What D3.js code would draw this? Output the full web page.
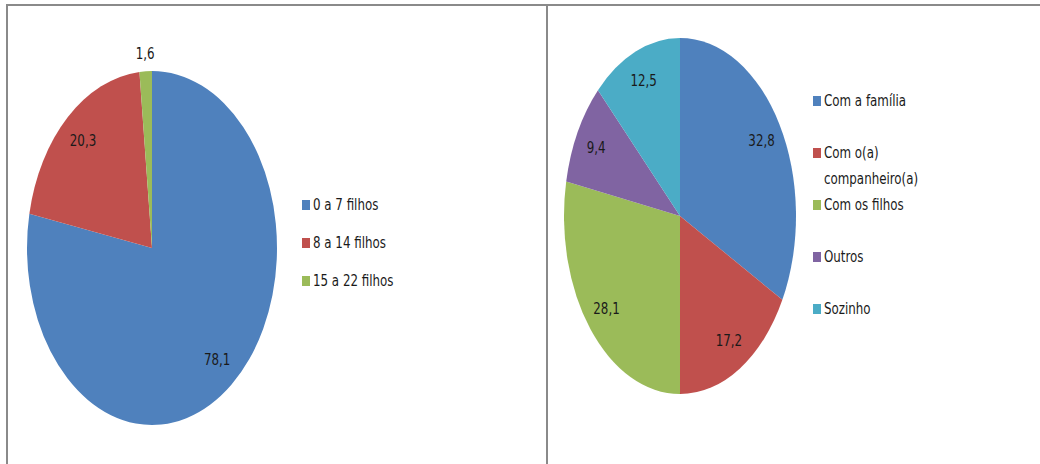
<!DOCTYPE html>
<html>
<head>
<meta charset="utf-8">
<script src="https://cdn.jsdelivr.net/npm/d3@7"></script>
<style>
  html, body { margin: 0; padding: 0; background: #fff; }
  svg { display: block; }
  text { font-family: "DejaVu Sans Condensed", "Liberation Sans", sans-serif; fill: #1a1a1a; }
</style>
</head>
<body>
<svg id="chart" width="1040" height="464"></svg>
<script>
// Número de filhos
const filhosCategories = ["0 a 7 filhos", "8 a 14 filhos", "15 a 22 filhos"];
const filhosValues = [78.1, 20.3, 1.6];

// Com quem mora
const moradiaCategories = ["Com a família", "Com o(a) companheiro(a)", "Com os filhos", "Outros", "Sozinho"];
const moradiaValues = [32.8, 17.2, 28.1, 9.4, 12.5];

const palette = ["#4F81BD", "#C0504D", "#9BBB59", "#8064A2", "#4BACC6"];

// Narrow, tall lettering
const textSX = 0.88;

const svg = d3.select("#chart");
const fmt = v => d3.format(".1f")(v).replace(".", ",");

// Panel frame lines
const frame = svg.append("g").attr("stroke", "#8a8a8a").attr("stroke-width", 2);
frame.append("line").attr("x1", 6).attr("x2", 1040).attr("y1", 5).attr("y2", 5);
frame.append("line").attr("x1", 7).attr("x2", 7).attr("y1", 4).attr("y2", 464);
frame.append("line").attr("x1", 547).attr("x2", 547).attr("y1", 4).attr("y2", 464);

function drawPie(cfg) {
  const { categories, values, cx, cy, rx, ry } = cfg;
  const data = categories.map((c, i) => ({ name: c, value: values[i], color: palette[i] }));
  const pie = d3.pie().sort(null).value(d => d.value);
  const arcs = pie(data);
  const arc = d3.arc().innerRadius(0).outerRadius(ry);
  const sx = rx / ry;

  const g = svg.append("g").attr("transform", `translate(${cx},${cy})`);
  g.append("g").attr("transform", `scale(${sx},1)`)
    .selectAll("path").data(arcs).join("path")
    .attr("d", arc)
    .attr("fill", d => d.data.color);

  // Value labels: inside for big slices, just outside for tiny ones
  g.selectAll("text").data(arcs).join("text")
    .attr("transform", d => {
      const f = d.data.value < 5 ? 1.1 : 0.82;
      const c = d3.arc().innerRadius(ry * f).outerRadius(ry * f).centroid(d);
      return `translate(${c[0] * sx},${c[1]}) scale(${textSX},1)`;
    })
    .attr("text-anchor", "middle")
    .attr("dy", "0.35em")
    .attr("font-size", 15)
    .text(d => fmt(d.data.value));
}

function drawLegend(cfg) {
  const { categories, x, y0, step, wrap } = cfg;
  const y = d3.scalePoint().domain(categories).range([y0, y0 + step * (categories.length - 1)]);
  const g = svg.append("g");
  const item = g.selectAll("g").data(categories).join("g")
    .attr("transform", d => `translate(${x},${y(d)})`);
  item.append("rect")
    .attr("x", 0).attr("y", -10).attr("width", 8).attr("height", 10)
    .attr("fill", (d, i) => palette[i]);
  item.append("text")
    .attr("transform", `translate(11,0) scale(${textSX},1)`)
    .attr("font-size", 15)
    .each(function (d) {
      const lines = wrap && wrap[d] ? wrap[d] : [d];
      d3.select(this).selectAll("tspan").data(lines).join("tspan")
        .attr("x", 0).attr("dy", (l, j) => j === 0 ? 0 : 26)
        .text(l => l);
    });
}

drawPie({ categories: filhosCategories, values: filhosValues, cx: 152, cy: 248, rx: 125, ry: 177 });
drawLegend({ categories: filhosCategories, x: 302, y0: 210, step: 38 });

drawPie({ categories: moradiaCategories, values: moradiaValues, cx: 680, cy: 216, rx: 116, ry: 178 });
drawLegend({
  categories: moradiaCategories, x: 813, y0: 106, step: 52,
  wrap: { "Com o(a) companheiro(a)": ["Com o(a)", "companheiro(a)"] }
});
</script>
</body>
</html>
